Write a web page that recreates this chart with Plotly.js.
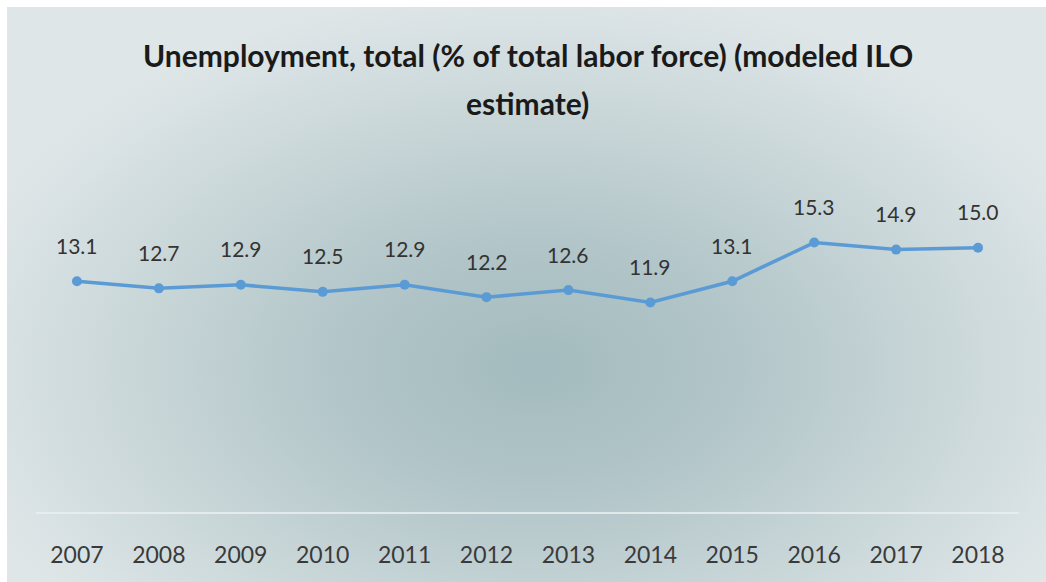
<!DOCTYPE html>
<html>
<head>
<meta charset="utf-8">
<script src="https://cdn.plot.ly/plotly-3.0.1.min.js"></script>
<style>
  html, body { margin: 0; padding: 0; background: #ffffff; width: 1046px; height: 582px; overflow: hidden; }
  #bg {
    position: absolute; left: 7px; top: 7px; width: 1039px; height: 575px;
    background: radial-gradient(ellipse 600px 380px at 530px 360px, #a3bbbe 0%, #b3c6c9 35%, #cbd8da 70%, #dfe6e8 100%);
  }
  #chart { position: absolute; left: 0; top: 0; width: 1046px; height: 582px; }
</style>
</head>
<body>
<div id="bg"></div>
<div id="chart"></div>
<script>
const years = ["2007","2008","2009","2010","2011","2012","2013","2014","2015","2016","2017","2018"];
const unemployment = [13.1, 12.7, 12.9, 12.5, 12.9, 12.2, 12.6, 11.9, 13.1, 15.3, 14.9, 15.0];
const labels = unemployment.map(v => v.toFixed(1));
const titleLine1 = "Unemployment, total (% of total labor force) (modeled ILO";
const titleLine2 = "estimate)";

const trace = {
  x: years,
  y: unemployment,
  type: "scatter",
  mode: "lines+markers",
  line: { color: "#5b9bd5", width: 3.5 },
  marker: { color: "#5b9bd5", size: 10 },
  cliponaxis: false,
  hoverinfo: "skip"
};

// category axis: annotation x uses the category's serial index
const valueLabels = years.map((yr, i) => ({
  x: i, y: unemployment[i], xref: "x", yref: "y",
  text: labels[i], showarrow: false, yshift: 36,
  xanchor: "center", yanchor: "middle",
  font: { family: "Lato, sans-serif", size: 21, color: "#333333" }
}));

const layout = {
  width: 1046, height: 582,
  margin: { l: 36, r: 27, t: 195, b: 70 },
  paper_bgcolor: "rgba(0,0,0,0)",
  plot_bgcolor: "rgba(0,0,0,0)",
  showlegend: false,
  xaxis: {
    type: "category",
    range: [-0.5, 11.5],
    showgrid: false, zeroline: false,
    showline: true, linecolor: "rgba(235,240,241,0.8)", linewidth: 1.5,
    ticks: "", ticklen: 0, ticklabelstandoff: 22,
    tickfont: { family: "Lato, sans-serif", size: 23, color: "#3a3a3a" },
    automargin: false
  },
  yaxis: {
    range: [0, 18],
    showgrid: false, zeroline: false, showline: false,
    showticklabels: false, ticks: ""
  },
  annotations: [
    { text: "<b>" + titleLine1 + "</b>", xref: "paper", yref: "paper", x: 0.5, y: 1, xanchor: "center", yanchor: "middle",
      xshift: 0, yshift: 195 - 55, showarrow: false, font: { family: "Lato, sans-serif", size: 30, color: "#1a1a1a" } },
    { text: "<b>" + titleLine2 + "</b>", xref: "paper", yref: "paper", x: 0.5, y: 1, xanchor: "center", yanchor: "middle",
      yshift: 195 - 103, showarrow: false, font: { family: "Lato, sans-serif", size: 30, color: "#1a1a1a" } }
  ].concat(valueLabels)
};

Plotly.newPlot("chart", [trace], layout, { staticPlot: true, displayModeBar: false });
</script>
</body>
</html>
